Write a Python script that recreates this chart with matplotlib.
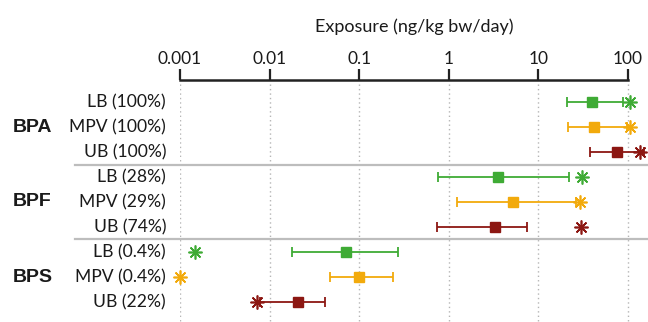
import matplotlib
matplotlib.use("Agg")
import matplotlib.pyplot as plt
import matplotlib.transforms as mtransforms
import numpy as np

# Exposure estimates (ng/kg bw/day) per compound and scenario
compounds = ["BPA", "BPF", "BPS"]
scenarios = ["LB", "MPV", "UB"]
row_labels = [
    "LB (100%)", "MPV (100%)", "UB (100%)",
    "LB (28%)", "MPV (29%)", "UB (74%)",
    "LB (0.4%)", "MPV (0.4%)", "UB (22%)",
]
# median (square), lower / upper whisker, high-percentile estimate (asterisk)
median = [40, 42, 75, 3.5, 5.2, 3.3, 0.072, 0.1, 0.0207]
lower = [20.7, 21.6, 38, 0.75, 1.25, 0.74, 0.018, 0.047, 0.0079]
upper = [89, 97, 150, 22, 26, 7.4, 0.27, 0.237, 0.042]
high = [105, 105, 136, 31, 29, 30, 0.00147, 0.001, 0.0072]

tick_values = [0.001, 0.01, 0.1, 1, 10, 100]
tick_labels = ["0.001", "0.01", "0.1", "1", "10", "100"]

colors = {"LB": "#3fab35", "MPV": "#f2aa0c", "UB": "#8c1712"}

W, H = 648, 322
fig = plt.figure(figsize=(W / 100, H / 100), dpi=100)

ax_left, ax_top = 180, 80
ax = fig.add_axes([ax_left / W, 0, 1 - ax_left / W, 1 - ax_top / H])
ax.set_xscale("log")
decade = 89.6
x_max = 10 ** ((W - ax_left) / decade - 3)
ax.set_xlim(0.001, x_max)
row0, step = 102, 25
ax.set_ylim((H - row0) / step, (ax_top - row0) / step)

label_font = ["Lato", "DejaVu Sans"]

# vertical dotted reference lines
ax.vlines(tick_values, -0.72, (H - row0) / step, colors="#b5b5b5",
          linestyles=(0, (1, 2.2)), linewidth=1.0, zorder=0)

# horizontal separators between compounds
blend = mtransforms.blended_transform_factory(fig.transFigure, ax.transData)
for ysep in [2.5, 5.5]:
    ax.plot([75 / W, 1], [ysep, ysep], transform=blend, color="#bdbdbd",
            lw=1.6, clip_on=False, zorder=1)

for i in range(len(row_labels)):
    c = colors[scenarios[i % 3]]
    m = median[i]
    ax.errorbar([m], [i], xerr=[[m - lower[i]], [upper[i] - m]], fmt="s",
                color=c, ecolor=c, elinewidth=1.3, capsize=3.8, capthick=1.3,
                markersize=6.5, clip_on=False, zorder=3)
    ax.plot([high[i]], [i], marker=(8, 2, 0), color=c, markersize=10,
            markeredgewidth=1.2, linestyle="none", clip_on=False, zorder=4)
    fig.text(166 / W, 1 - (row0 + step * i) / H, row_labels[i], ha="right",
             va="center", fontsize=12.6, family=label_font, color="#1a1a1a")

for g, name in enumerate(compounds):
    fig.text(13 / W, 1 - (row0 + step * (3 * g + 1)) / H, name, ha="left",
             va="center", fontsize=14, fontweight="bold",
             family=["Liberation Sans", "DejaVu Sans"], color="#1a1a1a")

# top axis only
for side in ["left", "right", "bottom"]:
    ax.spines[side].set_visible(False)
ax.spines["top"].set_bounds(tick_values[0], tick_values[-1])
ax.spines["top"].set_linewidth(1.8)
ax.spines["top"].set_color("#222222")
ax.xaxis.set_ticks_position("top")
ax.xaxis.set_label_position("top")
ax.set_xticks(tick_values)
ax.set_xticklabels(tick_labels, family=label_font, fontsize=12.5, color="#1a1a1a")
ax.xaxis.set_minor_locator(matplotlib.ticker.NullLocator())
ax.tick_params(axis="x", which="major", direction="out", length=8.2,
               width=1.6, color="#222222", pad=1.5)
ax.set_yticks([])
ax.set_xlabel("Exposure (ng/kg bw/day)", family=label_font, fontsize=13,
              color="#1a1a1a", labelpad=13)
ax.patch.set_alpha(0)

fig.savefig("out.png", dpi=100)
